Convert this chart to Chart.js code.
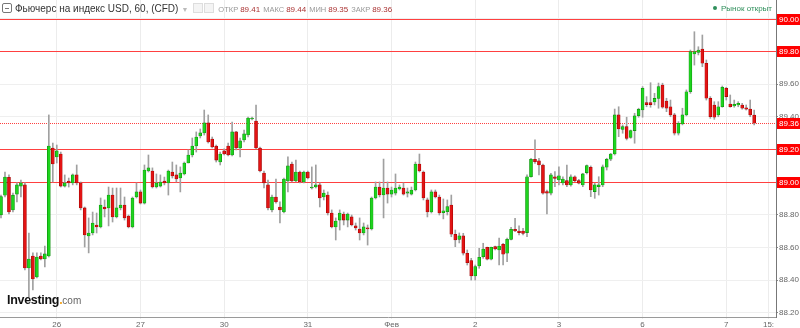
<!DOCTYPE html>
<html>
<head>
<meta charset="utf-8">
<script src="https://cdn.jsdelivr.net/npm/chart.js@4.4.1/dist/chart.umd.min.js"></script>
<style>
  body { margin: 0; background: #fff; }
  #wrap { position: relative; width: 800px; height: 328px; overflow: hidden; font-family: Arial, "Liberation Sans", sans-serif; }
  #chart { position: absolute; left: 0; top: 0; }
  #hdr { position: absolute; left: 2px; top: 2px; height: 14px; white-space: nowrap; font-size: 10px; color: #333; line-height: 14px; }
  #hdr .box { display: inline-block; width: 8px; height: 8px; border: 1px solid #777; border-radius: 2px; vertical-align: -1px; margin-right: 3px; position: relative; }
  #hdr .box:after { content: ""; position: absolute; left: 2px; right: 2px; top: 4px; height: 1px; background: #777; }
  #hdr .caret { color: #bbb; font-size: 7px; margin: 0 5px 0 3px; }
  #hdr .ico { display: inline-block; width: 8px; height: 8px; border: 1px solid #ddd; background: #f4f4f4; vertical-align: -1px; margin-right: 1px; }
  #hdr .k { color: #999; font-size: 7.5px; margin-left: 3px; }
  #hdr .v { color: #a33; font-size: 8px; margin-left: 2px; }
  #mkt { position: absolute; right: 28px; top: 4px; font-size: 8px; color: #2f8f5b; }
  #mkt:before { content: ""; display: inline-block; width: 4px; height: 4px; border-radius: 2px; background: #2f8f5b; margin-right: 4px; vertical-align: 1px; }
  #logo { position: absolute; left: 7px; top: 293px; font-size: 12.5px; font-weight: bold; color: #111; letter-spacing: -0.3px; }
  #logo .dot { color: #f5a623; }
  #logo .com { color: #666; font-weight: normal; font-size: 10px; letter-spacing: 0; }
</style>
</head>
<body>
<div id="wrap">
  <canvas id="chart" width="800" height="328"></canvas>
  <div id="hdr"><span class="box"></span><span class="ttl">Фьючерс на индекс USD, 60, (CFD)</span><span class="caret">▼</span><span class="ico"></span><span class="ico"></span><span class="k">ОТКР</span><span class="v" id="vO"></span><span class="k">МАКС</span><span class="v" id="vH"></span><span class="k">МИН</span><span class="v" id="vL"></span><span class="k">ЗАКР</span><span class="v" id="vC"></span></div>
  <div id="mkt">Рынок открыт</div>
  <div id="logo">Investing<span class="dot">.</span><span class="com">com</span></div>
</div>
<script>
// свечи по часам, индекс свечи = позиция на оси X
const opens = [
  88.80, 88.92, 89.03, 88.83, 88.927, 88.976, 88.983, 88.475, 88.548, 88.42,
  88.548, 88.53, 88.548, 89.209, 89.154, 89.172, 88.976, 89.007, 88.995, 89.044,
  88.995, 88.842, 88.671, 88.689, 88.738, 88.726, 88.848, 88.842, 88.921, 88.787,
  88.842, 88.86, 88.793, 88.726, 88.909, 88.94, 88.872, 89.068, 89.068, 88.97,
  88.976, 89.007, 88.995, 89.062, 89.044, 89.025, 89.05, 89.117, 89.166, 89.221,
  89.282, 89.301, 89.362, 89.264, 89.221, 89.123, 89.191, 89.221, 89.166, 89.307,
  89.209, 89.258, 89.288, 89.386, 89.374, 89.209, 89.056, 88.983, 88.83, 88.909,
  88.848, 88.817, 89.007, 89.111, 89.007, 89.062, 89.001, 89.062, 88.964, 88.97,
  88.983, 88.909, 88.921, 88.811, 88.726, 88.768, 88.805, 88.768, 88.787, 88.732,
  88.713, 88.689, 88.72, 88.713, 88.903, 88.97, 88.921, 88.964, 88.927, 88.933,
  88.958, 88.964, 88.933, 88.927, 88.952, 89.111, 89.062, 88.891, 88.817, 88.94,
  88.909, 88.813, 88.819, 88.86, 88.681, 88.65, 88.671, 88.565, 88.52, 88.426,
  88.487, 88.544, 88.601, 88.528, 88.605, 88.585, 88.62, 88.565, 88.65, 88.712,
  88.701, 88.701, 88.691, 89.033, 89.14, 89.131, 89.105, 88.942, 88.932, 89.033,
  89.013, 88.995, 89.009, 88.983, 89.033, 89.009, 88.983, 89.058, 89.091, 88.942,
  88.972, 88.983, 89.091, 89.14, 89.172, 89.411, 89.323, 89.339, 89.274, 89.315,
  89.406, 89.441, 89.486, 89.486, 89.49, 89.512, 89.594, 89.496, 89.461, 89.411,
  89.299, 89.356, 89.411, 89.553, 89.784, 89.794, 89.814, 89.727, 89.513, 89.472,
  89.411, 89.461, 89.574, 89.478, 89.466, 89.472, 89.472, 89.455, 89.447, 89.41
];
const highs = [
  88.921, 89.062, 89.044, 88.933, 88.995, 89.013, 88.995, 88.689, 88.567, 88.567,
  88.567, 88.609, 89.411, 89.239, 89.227, 89.184, 89.044, 89.025, 89.05, 89.105,
  89.001, 88.848, 88.781, 88.817, 88.811, 88.903, 88.891, 88.97, 88.964, 88.964,
  88.964, 88.909, 88.799, 88.909, 88.995, 88.952, 89.105, 89.166, 89.087, 89.05,
  89.044, 89.031, 89.074, 89.123, 89.105, 89.093, 89.123, 89.197, 89.27, 89.307,
  89.325, 89.441, 89.411, 89.276, 89.227, 89.184, 89.203, 89.239, 89.368, 89.31,
  89.27, 89.319, 89.398, 89.398, 89.472, 89.215, 89.068, 89.013, 88.921, 89.019,
  88.879, 89.025, 89.154, 89.123, 89.135, 89.068, 89.068, 89.068, 89.093, 89.105,
  88.995, 88.952, 88.94, 88.83, 88.781, 88.83, 88.817, 88.811, 88.799, 88.75,
  88.781, 88.75, 88.738, 88.909, 89.001, 89.001, 89.141, 89.001, 88.97, 89.05,
  88.983, 88.995, 88.964, 88.97, 89.123, 89.172, 89.068, 88.903, 88.952, 88.952,
  88.921, 88.897, 88.891, 88.921, 88.707, 88.689, 88.687, 88.585, 88.534, 88.493,
  88.595, 88.626, 88.603, 88.603, 88.609, 88.657, 88.626, 88.657, 88.724, 88.779,
  88.732, 88.718, 89.044, 89.146, 89.258, 89.146, 89.111, 88.952, 89.054, 89.064,
  89.094, 89.033, 89.105, 89.044, 89.039, 89.017, 89.054, 89.105, 89.099, 88.993,
  89.033, 89.105, 89.146, 89.176, 89.447, 89.461, 89.35, 89.397, 89.319, 89.421,
  89.452, 89.584, 89.523, 89.608, 89.543, 89.606, 89.605, 89.513, 89.502, 89.421,
  89.37, 89.452, 89.564, 89.808, 89.92, 89.828, 89.90, 89.747, 89.523, 89.492,
  89.492, 89.588, 89.58, 89.533, 89.502, 89.492, 89.482, 89.472, 89.502, 89.44
];
const lows = [
  88.781, 88.909, 88.805, 88.817, 88.879, 88.909, 88.463, 88.298, 88.34, 88.414,
  88.524, 88.481, 88.542, 89.001, 89.117, 88.97, 88.97, 88.97, 88.983, 88.983,
  88.83, 88.603, 88.567, 88.677, 88.689, 88.72, 88.787, 88.732, 88.756, 88.781,
  88.83, 88.768, 88.72, 88.72, 88.903, 88.866, 88.866, 89.062, 88.964, 88.964,
  88.97, 88.983, 88.921, 89.025, 89.001, 88.94, 89.044, 89.117, 89.154, 89.184,
  89.27, 89.288, 89.239, 89.209, 89.123, 89.105, 89.166, 89.16, 89.16, 89.197,
  89.154, 89.246, 89.276, 89.38, 89.203, 89.062, 88.964, 88.83, 88.817, 88.872,
  88.75, 88.811, 88.94, 89.001, 89.001, 88.995, 88.995, 89.019, 88.958, 88.964,
  88.848, 88.891, 88.799, 88.72, 88.646, 88.707, 88.738, 88.726, 88.732, 88.707,
  88.646, 88.677, 88.615, 88.707, 88.897, 88.909, 88.781, 88.872, 88.909, 88.921,
  88.952, 88.921, 88.909, 88.921, 88.946, 89.062, 88.891, 88.787, 88.811, 88.903,
  88.799, 88.775, 88.799, 88.666, 88.605, 88.628, 88.554, 88.493, 88.401, 88.401,
  88.473, 88.534, 88.524, 88.524, 88.585, 88.493, 88.493, 88.514, 88.646, 88.697,
  88.677, 88.677, 88.666, 89.03, 89.115, 89.044, 88.927, 88.805, 88.921, 88.972,
  88.983, 88.983, 88.972, 88.976, 89.003, 88.989, 88.972, 89.05, 88.911, 88.901,
  88.921, 88.972, 89.074, 89.131, 89.166, 89.278, 89.299, 89.258, 89.268, 89.238,
  89.397, 89.397, 89.461, 89.458, 89.472, 89.452, 89.452, 89.431, 89.40, 89.288,
  89.288, 89.35, 89.405, 89.543, 89.716, 89.778, 89.706, 89.502, 89.39, 89.384,
  89.40, 89.458, 89.502, 89.458, 89.458, 89.461, 89.446, 89.441, 89.40, 89.35
];
const closes = [
  88.911, 89.031, 88.817, 88.92, 88.983, 88.995, 88.475, 88.53, 88.408, 88.542,
  88.53, 88.561, 89.221, 89.111, 89.191, 88.976, 88.995, 88.995, 89.044, 88.995,
  88.842, 88.677, 88.689, 88.75, 88.726, 88.86, 88.836, 88.921, 88.787, 88.842,
  88.86, 88.781, 88.726, 88.903, 88.94, 88.872, 89.074, 89.087, 88.97, 88.995,
  89.001, 88.995, 89.068, 89.038, 89.019, 89.056, 89.117, 89.166, 89.221, 89.276,
  89.301, 89.362, 89.246, 89.215, 89.135, 89.172, 89.172, 89.166, 89.307, 89.209,
  89.252, 89.295, 89.392, 89.392, 89.209, 89.068, 88.995, 88.842, 88.909, 88.879,
  88.83, 89.019, 89.099, 89.007, 89.062, 89.001, 89.062, 89.025, 88.97, 88.983,
  88.903, 88.933, 88.811, 88.726, 88.762, 88.811, 88.768, 88.805, 88.738, 88.72,
  88.689, 88.726, 88.713, 88.903, 88.97, 88.921, 88.964, 88.927, 88.952, 88.964,
  88.97, 88.927, 88.94, 88.952, 89.111, 89.068, 88.903, 88.817, 88.94, 88.909,
  88.811, 88.825, 88.85, 88.681, 88.646, 88.671, 88.565, 88.507, 88.426, 88.483,
  88.54, 88.591, 88.528, 88.601, 88.591, 88.609, 88.559, 88.65, 88.712, 88.701,
  88.691, 88.687, 89.033, 89.14, 89.125, 89.105, 88.932, 88.932, 89.044, 89.023,
  89.039, 89.019, 88.983, 89.033, 89.009, 88.993, 89.05, 89.101, 88.952, 88.983,
  88.983, 89.094, 89.14, 89.172, 89.411, 89.325, 89.339, 89.268, 89.315, 89.405,
  89.446, 89.574, 89.474, 89.474, 89.512, 89.584, 89.458, 89.452, 89.411, 89.299,
  89.36, 89.411, 89.553, 89.798, 89.798, 89.808, 89.727, 89.513, 89.40, 89.397,
  89.461, 89.58, 89.523, 89.461, 89.476, 89.482, 89.452, 89.446, 89.411, 89.36
];

// подписи оси X (индекс свечи -> подпись)
const dayTickPos = [14, 35, 56, 77, 98, 119, 140, 161, 182, 192.6];
const dayTickLabels = ['26', '27', '30', '31', 'Фев', '2', '3', '6', '7', '15:'];
// уровни цены
const yTickValues = [88.2, 88.4, 88.6, 88.8, 89.0, 89.2, 89.4, 89.6, 89.8, 90.0];
const levelLines = [90.00, 89.80, 89.20, 89.00];
const lastPrice = 89.36;

const last = closes.length - 1;
document.getElementById('vO').textContent = opens[last].toFixed(2);
document.getElementById('vH').textContent = highs[last].toFixed(2);
document.getElementById('vL').textContent = lows[last].toFixed(2);
document.getElementById('vC').textContent = closes[last].toFixed(2);

const bodies = opens.map((o, i) => ({ x: i, y: [o, closes[i]] }));
const wicks = lows.map((l, i) => ({ x: i, y: [l, highs[i]] }));
const up = opens.map((o, i) => closes[i] >= o);

// убираем авто-отступы шкал, чтобы область графика шла от края до края
function noPad(s) {
  s.paddingTop = 0; s.paddingBottom = 0; s.paddingLeft = 0; s.paddingRight = 0;
}

// линии уровней и красные метки справа
const levelsPlugin = {
  id: 'levels',
  beforeDatasetsDraw(chart) {
    const { ctx, chartArea } = chart;
    const y = chart.scales.y;
    ctx.save();
    ctx.strokeStyle = '#ff4040';
    ctx.lineWidth = 1;
    levelLines.forEach(v => {
      const py = Math.round(y.getPixelForValue(v)) + 0.5;
      ctx.beginPath();
      ctx.moveTo(chartArea.left, py);
      ctx.lineTo(chartArea.right, py);
      ctx.stroke();
    });
    const py = Math.round(y.getPixelForValue(lastPrice)) + 0.5;
    ctx.setLineDash([1, 1]);
    ctx.beginPath();
    ctx.moveTo(chartArea.left, py);
    ctx.lineTo(chartArea.right, py);
    ctx.stroke();
    ctx.restore();
  },
  afterDraw(chart) {
    const { ctx, chartArea } = chart;
    const y = chart.scales.y;
    ctx.save();
    ctx.font = '8px Arial, "Liberation Sans"';
    ctx.textAlign = 'center';
    ctx.textBaseline = 'middle';
    levelLines.concat([lastPrice]).forEach(v => {
      const py = Math.round(y.getPixelForValue(v));
      ctx.fillStyle = '#ff0000';
      ctx.fillRect(chartArea.right + 1, py - 5, 800 - chartArea.right - 1, 11);
      ctx.fillStyle = '#fff';
      ctx.fillText(v.toFixed(2), chartArea.right + 13, py + 0.5);
    });
    ctx.restore();
  }
};

new Chart(document.getElementById('chart'), {
  type: 'bar',
  data: {
    datasets: [
      {
        data: bodies,
        grouped: false,
        barThickness: 3,
        minBarLength: 1,
        borderSkipped: false,
        borderWidth: 0.6,
        backgroundColor: up.map(u => u ? '#1ed41e' : '#e31414'),
        borderColor: up.map(u => u ? '#0b8a0b' : '#9c0000')
      },
      {
        data: wicks,
        grouped: false,
        barThickness: 1,
        backgroundColor: '#a0a0a0'
      }
    ]
  },
  options: {
    responsive: false,
    animation: false,
    devicePixelRatio: 1,
    layout: { padding: 0, autoPadding: false },
    plugins: { legend: { display: false }, tooltip: { enabled: false } },
    scales: {
      x: {
        type: 'linear',
        offset: false,
        bounds: 'data',
        min: -0.25,
        max: 194.48,
        afterBuildTicks: s => { s.ticks = dayTickPos.map(v => ({ value: v })); },
        afterFit: s => { s.height = 11; noPad(s); },
        ticks: {
          autoSkip: false,
          maxRotation: 0,
          padding: 1,
          color: '#666',
          font: { size: 8, family: 'Arial, "Liberation Sans"' },
          callback: (v, i) => dayTickLabels[i]
        },
        grid: { color: '#ececec', offset: false, tickLength: 2, drawTicks: true },
        border: { color: '#9a9a9a' }
      },
      y: {
        position: 'right',
        offset: false,
        min: 88.175,
        max: 90.114,
        afterBuildTicks: s => { s.ticks = yTickValues.map(v => ({ value: v })); },
        afterFit: s => { s.width = 24; noPad(s); },
        ticks: {
          padding: 1,
          color: '#666',
          font: { size: 8, family: 'Arial, "Liberation Sans"' },
          callback: v => v.toFixed(2)
        },
        grid: { color: '#efefef', tickLength: 2, tickColor: '#888' },
        border: { color: '#777' }
      }
    }
  },
  plugins: [levelsPlugin]
});
</script>
</body>
</html>
